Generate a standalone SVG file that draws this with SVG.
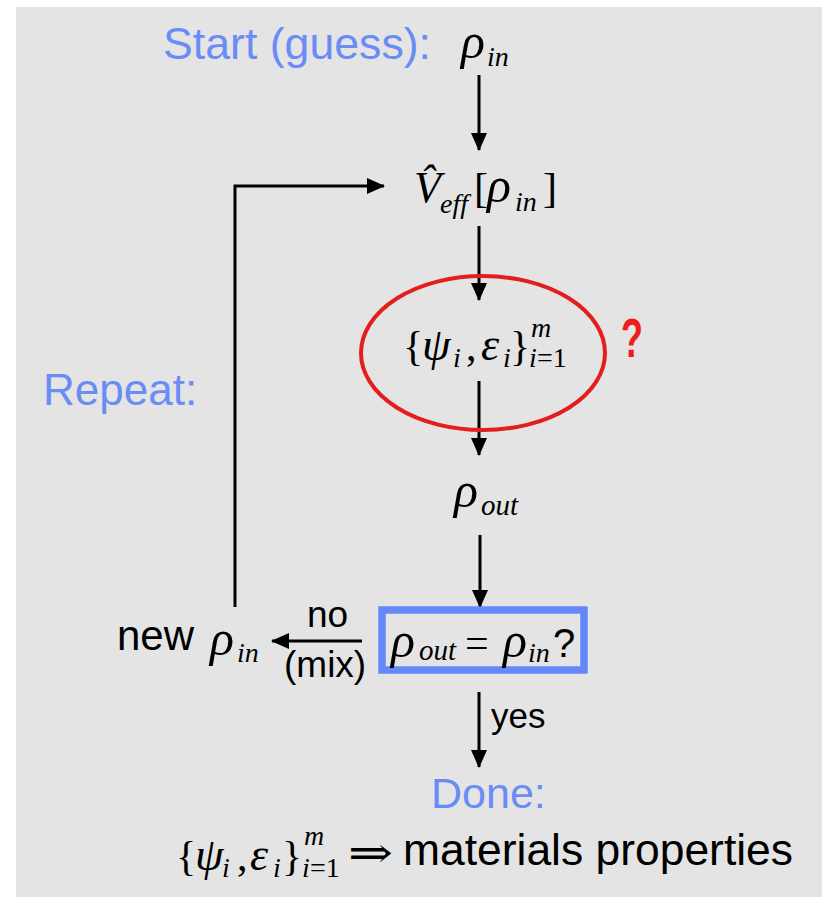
<svg xmlns="http://www.w3.org/2000/svg" width="822" height="897" viewBox="0 0 822 897">
<style>
.sans{font-family:'Liberation Sans',Arial,sans-serif;fill:#000}
.blue{font-family:'Liberation Sans',Arial,sans-serif;fill:#6a8cf6}
.mth{font-family:'Liberation Serif','DejaVu Serif',serif;fill:#000}
.it{font-style:italic}
.ln{stroke:#000;stroke-width:3;fill:none}
</style>
<defs>
<marker id="ah" viewBox="0 0 18 16" refX="17" refY="8" markerWidth="18" markerHeight="16" markerUnits="userSpaceOnUse" orient="auto">
<path d="M0,0 L18,8 L0,16 z" fill="#000"/>
</marker>
</defs>
<rect x="0" y="0" width="822" height="897" fill="#ffffff"/>
<rect x="16" y="7" width="806" height="890" fill="#e4e4e4"/>

<g id="connectors">
<path class="ln" d="M479,75 L479,150" marker-end="url(#ah)"/>
<path class="ln" d="M479,226 L479,300" marker-end="url(#ah)"/>
<path class="ln" d="M479,381 L479,455" marker-end="url(#ah)"/>
<path class="ln" d="M480,535 L480,607" marker-end="url(#ah)"/>
<path class="ln" d="M479,692 L479,767" marker-end="url(#ah)"/>
<path class="ln" d="M362,641 L272,641" marker-end="url(#ah)"/>
<path class="ln" d="M235,607 L235,186 L384,186" marker-end="url(#ah)"/>
</g>

<g id="start">
<text class="blue" x="163" y="59" font-size="44" textLength="268" lengthAdjust="spacingAndGlyphs">Start (guess):</text>
<text class="mth it" x="461" y="58" font-size="50">ρ</text>
<text class="mth it" x="487" y="66" font-size="28">in</text>
</g>

<g id="veff">
<text class="mth it" x="414" y="202" font-size="44">V̂</text>
<text class="mth it" x="440" y="213" font-size="28">eff</text>
<text class="mth" x="474" y="202" font-size="42">[</text>
<text class="mth it" x="487" y="202" font-size="50">ρ</text>
<text class="mth it" x="515" y="211" font-size="28">in</text>
<text class="mth" x="543" y="202" font-size="42">]</text>
</g>

<g id="eigen">
<ellipse cx="483" cy="353" rx="122" ry="77" fill="none" stroke="#e41e1e" stroke-width="4"/>
<text class="mth" x="403" y="360" font-size="42">{</text>
<text class="mth it" x="422" y="360" font-size="46">ψ</text>
<text class="mth it" x="453" y="367" font-size="28">i</text>
<text class="mth" x="466" y="360" font-size="42">,</text>
<text class="mth it" x="481" y="360" font-size="46">ε</text>
<text class="mth it" x="503" y="367" font-size="28">i</text>
<text class="mth" x="510" y="360" font-size="42">}</text>
<text class="mth it" x="531" y="337" font-size="28">m</text>
<text class="mth it" x="529" y="367" font-size="28">i</text>
<text class="mth" x="537" y="367" font-size="28">=1</text>
<text x="621" y="357" font-family="Liberation Sans, Arial, sans-serif" font-weight="bold" font-size="56" fill="#ee1c1c" textLength="22" lengthAdjust="spacingAndGlyphs">?</text>
</g>

<g id="rhoout">
<text class="mth it" x="454" y="507" font-size="50">ρ</text>
<text class="mth it" x="481" y="515" font-size="29">out</text>
</g>

<g id="check">
<rect x="382" y="610" width="202" height="60" fill="none" stroke="#6488f7" stroke-width="7.5"/>
<text class="mth it" x="391" y="657" font-size="50">ρ</text>
<text class="mth it" x="419" y="660" font-size="29">out</text>
<text class="mth" x="465" y="657" font-size="42">=</text>
<text class="mth it" x="503" y="657" font-size="50">ρ</text>
<text class="mth it" x="528" y="662" font-size="28">in</text>
<text class="sans" x="553" y="657" font-size="40">?</text>
</g>

<g id="newrho">
<text class="sans" x="117" y="650" font-size="42">new</text>
<text class="mth it" x="210" y="655" font-size="50">ρ</text>
<text class="mth it" x="237" y="662" font-size="28">in</text>
</g>

<g id="labels">
<text class="sans" x="307" y="627" font-size="37">no</text>
<text class="sans" x="284" y="677" font-size="37">(mix)</text>
<text class="sans" x="491" y="728" font-size="35">yes</text>
<text class="blue" x="43" y="405" font-size="44">Repeat:</text>
</g>

<g id="done">
<text class="blue" x="431" y="808" font-size="43">Done:</text>
<text class="mth" x="176" y="870" font-size="42">{</text>
<text class="mth it" x="195" y="870" font-size="46">ψ</text>
<text class="mth it" x="222" y="877" font-size="28">i</text>
<text class="mth" x="237" y="870" font-size="42">,</text>
<text class="mth it" x="250" y="870" font-size="46">ε</text>
<text class="mth it" x="273" y="877" font-size="28">i</text>
<text class="mth" x="282" y="870" font-size="42">}</text>
<text class="mth it" x="304" y="845" font-size="28">m</text>
<text class="mth it" x="302" y="877" font-size="28">i</text>
<text class="mth" x="310" y="877" font-size="28">=1</text>
<text class="mth" x="348" y="867" font-size="42" textLength="45" lengthAdjust="spacingAndGlyphs">⇒</text>
<text class="sans" x="403" y="865" font-size="44" textLength="390" lengthAdjust="spacingAndGlyphs">materials properties</text>
</g>
</svg>
